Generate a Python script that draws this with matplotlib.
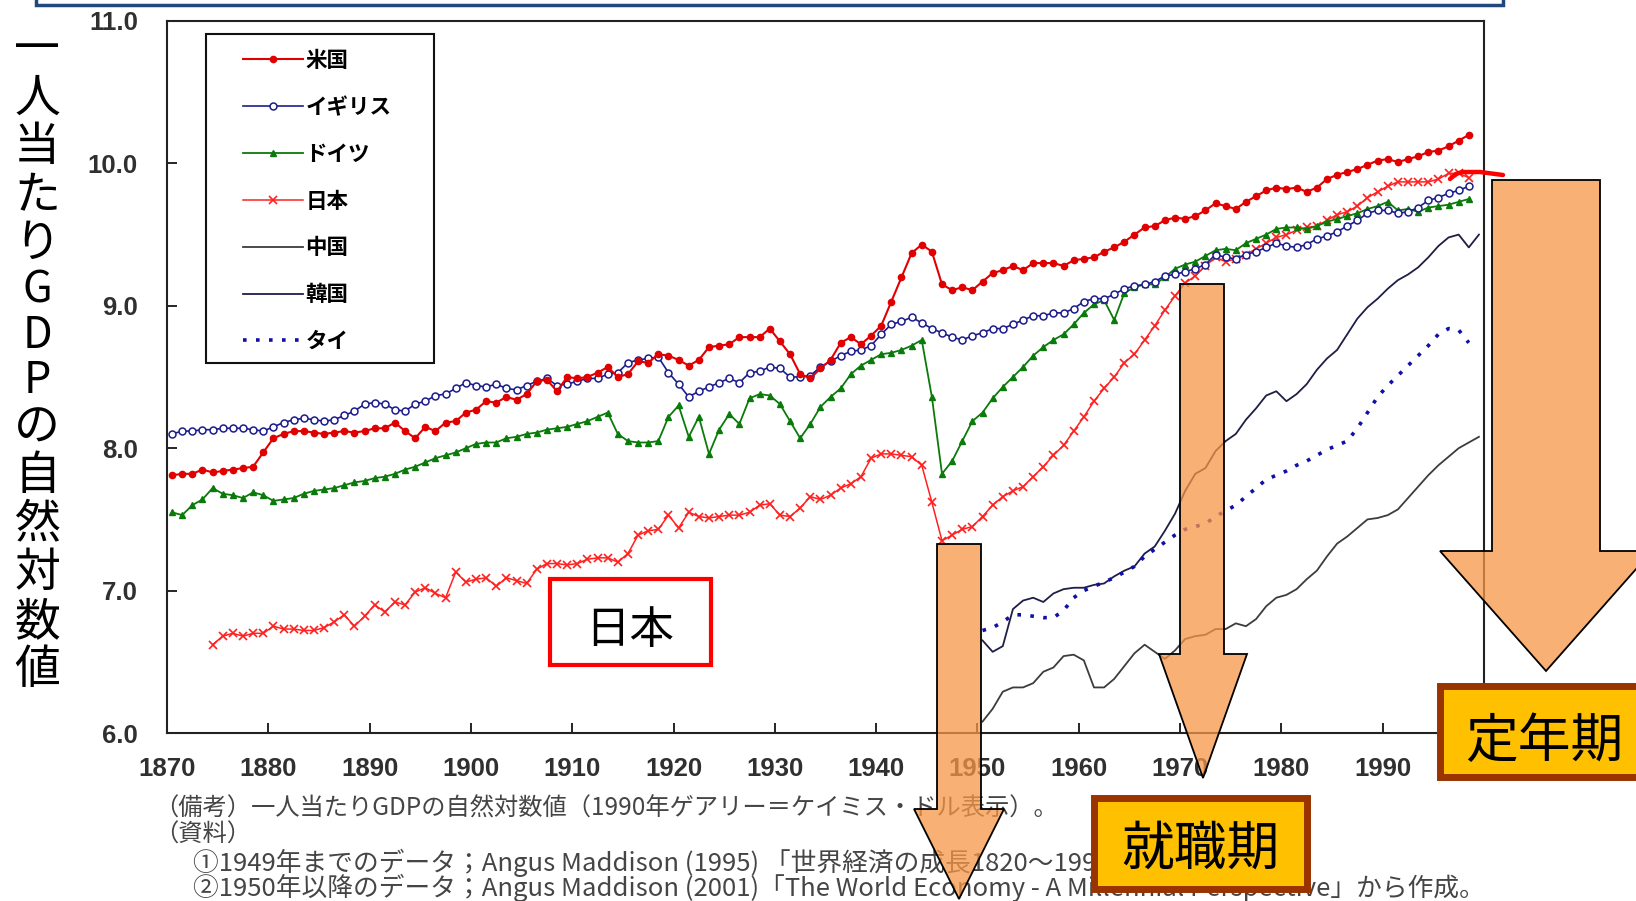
import numpy as np
import matplotlib.pyplot as plt
from matplotlib.patches import Rectangle, Polygon
from matplotlib.ticker import FormatStrFormatter

plt.rcParams['font.family'] = ['Noto Sans CJK JP', 'DejaVu Sans']

# ---- data (natural log of GDP per capita) ----
years_us = np.arange(1870, 1999)
us = [7.81, 7.82, 7.82, 7.85, 7.83, 7.84, 7.85, 7.86, 7.87, 7.97,
      8.07, 8.10, 8.12, 8.12, 8.11, 8.10, 8.11, 8.12, 8.11, 8.12,
      8.14, 8.14, 8.18, 8.12, 8.07, 8.15, 8.12, 8.18, 8.19, 8.25,
      8.27, 8.33, 8.32, 8.36, 8.34, 8.38, 8.47, 8.48, 8.40, 8.50,
      8.49, 8.50, 8.53, 8.57, 8.50, 8.52, 8.61, 8.60, 8.66, 8.65,
      8.62, 8.58, 8.62, 8.71, 8.72, 8.73, 8.78, 8.78, 8.78, 8.84,
      8.75, 8.66, 8.52, 8.49, 8.56, 8.62, 8.74, 8.78, 8.73, 8.79,
      8.86, 9.03, 9.20, 9.37, 9.43, 9.38, 9.15, 9.11, 9.13, 9.11,
      9.17, 9.23, 9.25, 9.28, 9.25, 9.30, 9.30, 9.30, 9.28, 9.32,
      9.33, 9.34, 9.38, 9.41, 9.45, 9.50, 9.55, 9.56, 9.60, 9.62,
      9.61, 9.63, 9.67, 9.72, 9.70, 9.68, 9.73, 9.77, 9.81, 9.83,
      9.82, 9.83, 9.80, 9.83, 9.89, 9.92, 9.94, 9.96, 9.99, 10.02,
      10.03, 10.01, 10.03, 10.05, 10.08, 10.09, 10.12, 10.16, 10.20]

years_uk = np.arange(1870, 1999)
uk = [8.10, 8.12, 8.12, 8.13, 8.13, 8.14, 8.14, 8.14, 8.13, 8.12,
      8.15, 8.18, 8.20, 8.21, 8.20, 8.19, 8.20, 8.23, 8.26, 8.31,
      8.32, 8.31, 8.27, 8.26, 8.31, 8.33, 8.37, 8.38, 8.42, 8.46,
      8.44, 8.43, 8.45, 8.42, 8.41, 8.44, 8.47, 8.49, 8.44, 8.45,
      8.47, 8.49, 8.49, 8.52, 8.53, 8.60, 8.62, 8.63, 8.64, 8.53,
      8.45, 8.36, 8.40, 8.43, 8.46, 8.49, 8.46, 8.53, 8.54, 8.57,
      8.56, 8.50, 8.50, 8.51, 8.57, 8.61, 8.65, 8.68, 8.69, 8.72,
      8.80, 8.87, 8.89, 8.92, 8.88, 8.84, 8.81, 8.78, 8.76, 8.79,
      8.81, 8.84, 8.84, 8.87, 8.90, 8.93, 8.93, 8.95, 8.95, 8.98,
      9.03, 9.05, 9.05, 9.08, 9.12, 9.14, 9.15, 9.17, 9.21, 9.22,
      9.24, 9.26, 9.29, 9.36, 9.34, 9.33, 9.36, 9.38, 9.41, 9.44,
      9.42, 9.41, 9.43, 9.47, 9.49, 9.52, 9.56, 9.60, 9.65, 9.67,
      9.67, 9.65, 9.66, 9.69, 9.74, 9.76, 9.79, 9.81, 9.84]

years_de = np.arange(1870, 1999)
de = [7.55, 7.53, 7.60, 7.64, 7.72, 7.68, 7.67, 7.65, 7.69, 7.67,
      7.63, 7.64, 7.65, 7.68, 7.70, 7.71, 7.72, 7.74, 7.76, 7.77,
      7.79, 7.80, 7.82, 7.85, 7.87, 7.90, 7.93, 7.95, 7.97, 8.00,
      8.03, 8.04, 8.04, 8.07, 8.08, 8.10, 8.11, 8.13, 8.14, 8.15,
      8.17, 8.19, 8.22, 8.25, 8.10, 8.05, 8.04, 8.04, 8.05, 8.22,
      8.30, 8.08, 8.22, 7.96, 8.13, 8.24, 8.17, 8.35, 8.38, 8.37,
      8.31, 8.19, 8.07, 8.17, 8.29, 8.36, 8.42, 8.52, 8.58, 8.62,
      8.66, 8.67, 8.69, 8.72, 8.76, 8.36, 7.82, 7.91, 8.05, 8.19,
      8.25, 8.35, 8.43, 8.50, 8.57, 8.65, 8.71, 8.76, 8.80, 8.87,
      8.95, 9.01, 9.04, 8.90, 9.09, 9.13, 9.15, 9.15, 9.20, 9.26,
      9.29, 9.31, 9.35, 9.39, 9.40, 9.39, 9.44, 9.47, 9.50, 9.54,
      9.55, 9.55, 9.54, 9.56, 9.59, 9.61, 9.63, 9.65, 9.68, 9.70,
      9.73, 9.67, 9.68, 9.66, 9.69, 9.70, 9.71, 9.73, 9.75]

years_jp = np.arange(1874, 1999)
jp = [6.62, 6.68, 6.70, 6.68, 6.70, 6.70,
      6.75, 6.73, 6.73, 6.72, 6.72, 6.74, 6.78, 6.83, 6.75, 6.82,
      6.90, 6.85, 6.92, 6.90, 6.99, 7.02, 6.98, 6.95, 7.13, 7.06,
      7.08, 7.09, 7.03, 7.09, 7.07, 7.05, 7.15, 7.19, 7.19, 7.18,
      7.19, 7.22, 7.23, 7.23, 7.20, 7.26, 7.39, 7.42, 7.43, 7.53,
      7.44, 7.55, 7.52, 7.51, 7.52, 7.53, 7.53, 7.55, 7.60, 7.61,
      7.53, 7.52, 7.58, 7.66, 7.64, 7.67, 7.72, 7.75, 7.80, 7.93,
      7.96, 7.96, 7.95, 7.94, 7.88, 7.62, 7.35, 7.39, 7.43, 7.45,
      7.52, 7.60, 7.66, 7.70, 7.73, 7.80, 7.87, 7.95, 8.02, 8.12,
      8.22, 8.33, 8.42, 8.50, 8.60, 8.66, 8.76, 8.86, 8.97, 9.07,
      9.16, 9.21, 9.28, 9.34, 9.31, 9.33, 9.36, 9.40, 9.44, 9.48,
      9.50, 9.53, 9.55, 9.56, 9.60, 9.64, 9.66, 9.70, 9.76, 9.80,
      9.84, 9.87, 9.87, 9.87, 9.87, 9.89, 9.93, 9.93, 9.90]

years_cn = np.arange(1950, 2000)
cn = [6.08, 6.17, 6.29, 6.32, 6.32, 6.35, 6.43, 6.46, 6.54, 6.55,
      6.51, 6.32, 6.32, 6.38, 6.47, 6.56, 6.62, 6.57, 6.52, 6.58,
      6.66, 6.68, 6.69, 6.73, 6.73, 6.77, 6.75, 6.80, 6.89, 6.95,
      6.97, 7.01, 7.08, 7.14, 7.24, 7.33, 7.38, 7.44, 7.50, 7.51,
      7.53, 7.57, 7.65, 7.73, 7.81, 7.88, 7.94, 8.00, 8.04, 8.08]

years_kr = np.arange(1950, 2000)
kr = [6.65, 6.57, 6.61, 6.87, 6.93, 6.95, 6.92, 6.98, 7.01, 7.02,
      7.02, 7.04, 7.05, 7.10, 7.14, 7.17, 7.26, 7.31, 7.42, 7.54,
      7.70, 7.82, 7.86, 7.98, 8.05, 8.10, 8.20, 8.28, 8.37, 8.40,
      8.33, 8.38, 8.45, 8.55, 8.63, 8.69, 8.80, 8.91, 8.99, 9.05,
      9.12, 9.18, 9.22, 9.27, 9.34, 9.42, 9.48, 9.50, 9.41, 9.50]

years_th = np.arange(1950, 1999)
th = [6.72, 6.74, 6.78, 6.83, 6.83, 6.82, 6.81, 6.81, 6.86, 6.95,
      7.00, 7.03, 7.06, 7.09, 7.13, 7.17, 7.24, 7.29, 7.34, 7.39,
      7.43, 7.45, 7.47, 7.52, 7.56, 7.60, 7.66, 7.72, 7.78, 7.81,
      7.84, 7.88, 7.91, 7.95, 7.99, 8.02, 8.05, 8.14, 8.25, 8.36,
      8.44, 8.51, 8.58, 8.65, 8.72, 8.80, 8.84, 8.83, 8.74]

labels = ['米国', 'イギリス', 'ドイツ', '日本', '中国', '韓国', 'タイ']
ylabel = '一人当たりGDPの自然対数値'
notes = ['（備考）一人当たりGDPの自然対数値（1990年ゲアリー＝ケイミス・ドル表示）。',
         '（資料）',
         '①1949年までのデータ；Angus Maddison (1995) 「世界経済の成長1820～1992」',
         '②1950年以降のデータ；Angus Maddison (2001)「The World Economy - A Millennial Perspective」から作成。']

W, H = 1636, 901
fig = plt.figure(figsize=(W / 100, H / 100), dpi=100)
ax = fig.add_axes([167 / W, 1 - 733 / H, (1484 - 167) / W, (733 - 21) / H])

off = 0.5  # points sit in the middle of each year
ax.plot(years_cn + off, cn, color='#3c3c3c', lw=1.3, label=labels[4])
ax.plot(years_kr + off, kr, color='#1e1e46', lw=1.3, label=labels[5])
ax.plot(years_th + off, th, color='#1010a8', lw=2.6, ls=(0, (1, 2.6)), label=labels[6])
ax.plot(years_jp + off, jp, color='#ff2020', lw=1.1, marker='x', ms=6, mew=1.2, label=labels[3])
ax.plot(years_de + off, de, color='#0a7a0a', lw=1.3, marker='^', ms=5, label=labels[2])
ax.plot(years_uk + off, uk, color='#1c1c8c', lw=1.2, marker='o', ms=5, mfc='white', mew=1.1, label=labels[1])
ax.plot(years_us + off, us, color='#e00000', lw=1.5, marker='o', ms=4.5, label=labels[0])

ax.set_xlim(1870, 2000)
ax.set_ylim(6, 11)
ax.set_xticks(np.arange(1870, 2000, 10))
ax.set_yticks(np.arange(6, 11.01, 1))
ax.yaxis.set_major_formatter(FormatStrFormatter('%.1f'))
ax.tick_params(direction='in', length=7, width=1.2, labelsize=18.5, labelcolor='#303030')
ax.tick_params(axis='x', pad=17)
ax.tick_params(axis='y', pad=21)
for lab in ax.get_xticklabels() + ax.get_yticklabels():
    lab.set_fontfamily('Liberation Sans')
    lab.set_fontweight('bold')
for s in ax.spines.values():
    s.set_color('#222222')
    s.set_linewidth(1.5)

# legend, in the order of the original
h = {l.get_label(): l for l in ax.get_lines()}
leg = ax.legend([h[k] for k in labels], labels, loc='upper left',
                bbox_to_anchor=(243 / W, 1 - 50 / H), bbox_transform=fig.transFigure,
                frameon=False, borderpad=0, borderaxespad=0, handlelength=2.8,
                handletextpad=0.1, labelspacing=1.2,
                prop={'family': 'Noto Sans CJK JP', 'size': 15.5, 'weight': 'bold'})
fig.add_artist(Rectangle((206 / W, 1 - 363 / H), 228 / W, 329 / H, transform=fig.transFigure,
                         fill=False, edgecolor='#111111', lw=1.5))

# overlay in pixel coordinates for labels, arrows and boxes
ov = fig.add_axes([0, 0, 1, 1], zorder=5)
ov.set_xlim(0, W)
ov.set_ylim(H, 0)
ov.axis('off')
ov.patch.set_alpha(0)

ov.add_patch(Rectangle((36, -20), 1467, 25, fill=False, edgecolor='#1F497D', lw=2.5))

# vertical y label: one character per slot, latin letters a bit tighter
y = 50
prev = None
for ch in ylabel:
    latin = ch.isascii()
    adv = 45 if latin else 48.5
    if prev is not None:
        y += (prev + adv) / 2
    ov.text(37, y, ch, ha='center', va='center', fontsize=31 if latin else 33, color='black')
    prev = adv

note_pos = [(154, 809), (154, 835), (193, 863), (193, 888)]
note_size = [17.5, 17.5, 18.5, 18.5]
for (x, yy), t, fs in zip(note_pos, notes, note_size):
    ov.text(x, yy, t, ha='left', va='center', fontsize=fs, color='#454545', zorder=1)

ov.add_patch(Rectangle((550, 579), 161, 86, facecolor='white', edgecolor='#ff0000', lw=3, zorder=2))
ov.text(630, 630, '日本', ha='center', va='center', fontsize=32, color='black', zorder=3)


def down_arrow(x0, x1, top, hx0, hx1, base, tip):
    cx = (hx0 + hx1) / 2
    pts = [(x0, top), (x1, top), (x1, base), (hx1, base), (cx, tip), (hx0, base), (x0, base)]
    return Polygon(pts, closed=True, facecolor=(0.969, 0.588, 0.275, 0.75),
                   edgecolor='black', lw=1.3, zorder=4)


ov.add_patch(down_arrow(937, 981, 544, 914, 1004, 809, 899))
ov.add_patch(down_arrow(1180, 1224, 284, 1159, 1247, 654, 778))
ov.add_patch(down_arrow(1492, 1600, 180, 1440, 1652, 551, 671))

ov.plot([1450, 1456, 1462, 1480, 1503], [179, 174, 172, 172, 175], color='#ff0000', lw=3.2,
        solid_capstyle='round', zorder=4)

ov.add_patch(Rectangle((1094, 798), 213, 91, facecolor='#FFC000', edgecolor='#993300', lw=5, zorder=6))
ov.text(1200, 849, '就職期', ha='center', va='center', fontsize=38, color='black', zorder=7)
ov.add_patch(Rectangle((1440, 686), 230, 91, facecolor='#FFC000', edgecolor='#993300', lw=5, zorder=6))
ov.text(1544, 742, '定年期', ha='center', va='center', fontsize=38, color='black', zorder=7)

fig.savefig('out.png', dpi=100)
